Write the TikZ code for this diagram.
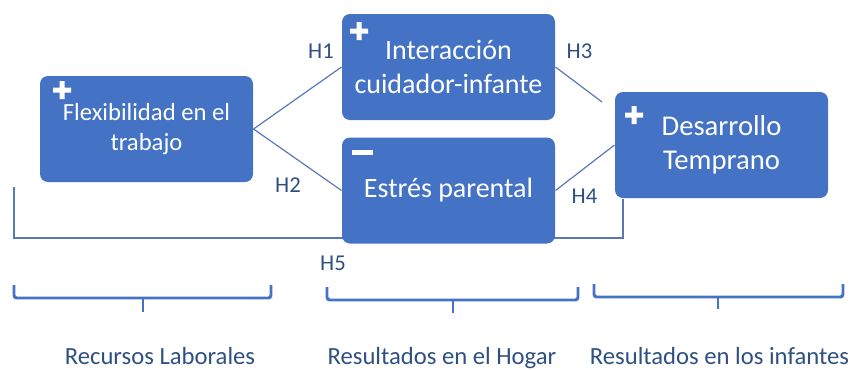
\documentclass[tikz,border=0pt]{standalone}
\usepackage{fontspec}
\setmainfont{Carlito}
\usepackage{tikz}
\usetikzlibrary{backgrounds}
\definecolor{boxblue}{RGB}{68,114,196}
\definecolor{linkblue}{RGB}{90,120,180}
\definecolor{labelblue}{RGB}{47,80,130}
\tikzset{every picture/.style={line width=0.75pt}}
\tikzset{
  varbox/.style={draw=none, fill=boxblue, rounded corners=6pt, text=white,
    minimum width=159.75pt, minimum height=79.5pt, align=center, inner sep=0pt},
  link/.style={draw=linkblue, line width=0.9pt},
  hyp/.style={text=labelblue, font=\fontsize{17}{19}\selectfont, inner sep=0.75pt},
  group/.style={text=labelblue, font=\fontsize{18.5}{21}\selectfont, inner sep=0.75pt, anchor=base},
  bracket/.style={draw=boxblue, line width=2.2pt, rounded corners=2pt}
}

\begin{document}
\begin{tikzpicture}[x=0.75pt,y=0.75pt,yscale=-1,xscale=1]
\useasboundingbox (0,0) rectangle (851,369);

%Shape: Rounded Rectangles
\node [varbox, font=\fontsize{18.5}{22}\selectfont] (flex) at (146.5,129) {Flexibilidad en el\\trabajo};
\node [varbox, font=\fontsize{21}{25}\selectfont] (inter) at (448.5,67) {Interacción\\cuidador-infante};
\node [varbox, font=\fontsize{21}{25}\selectfont] (estres) at (448.5,190.5) {Estrés parental};
\node [varbox, font=\fontsize{21.5}{25}\selectfont] (desarr) at (721.5,145) {Desarrollo\\Temprano};

%Shape: Plus / Minus signs
\fill [white] (53,87.5) rectangle (71,92.5) (59.5,81) rectangle (64.5,99);
\fill [white] (350,28.5) rectangle (368,33.5) (356.5,22) rectangle (361.5,40);
\fill [white] (625,112.5) rectangle (643,117.5) (631.5,106) rectangle (636.5,124);
\fill [white] (351.5,149.5) rectangle (372.5,154.5);

%Free ends of lines
\coordinate (h3end) at (602,102);
\coordinate (h5start) at (14,187);
\coordinate (h5corner) at (623,238);

%Straight Lines
\begin{scope}[on background layer]
\draw [link] (flex.east) -- (inter.west);
\draw [link] (flex.east) -- (estres.west);
\draw [link] (inter.east) -- (h3end);
\draw [link] (estres.east) -- (desarr.west);
\draw [link] (h5start) |- (h5corner) -- (h5corner |- desarr.south);
\end{scope}

% Text Node
\node [hyp] (h1) at (321,51.5) {H1};
\node [hyp] (h2) at (288,185) {H2};
\node [hyp] (h3) at (579.5,51.5) {H3};
\node [hyp] (h4) at (584.5,196) {H4};
\node [hyp] (h5) at (333,263) {H5};

%Brackets
\draw [bracket] (14,285) -- (14,298) -- (271,298) -- (271,285);
\draw [bracket] (143,298) -- (143,312);
\draw [bracket] (327,287) -- (327,300) -- (578,300) -- (578,287);
\draw [bracket] (453,300) -- (453,313);
\draw [bracket] (594,284) -- (594,297) -- (843,297) -- (843,284);
\draw [bracket] (718,297) -- (718,309);

% Text Node
\node [group] (recursos) at (160,364) {Recursos Laborales};
\node [group] (hogar) at (442,364) {Resultados en el Hogar};
\node [group] (infantes) at (719.5,364) {Resultados en los infantes};
\end{tikzpicture}
\end{document}
